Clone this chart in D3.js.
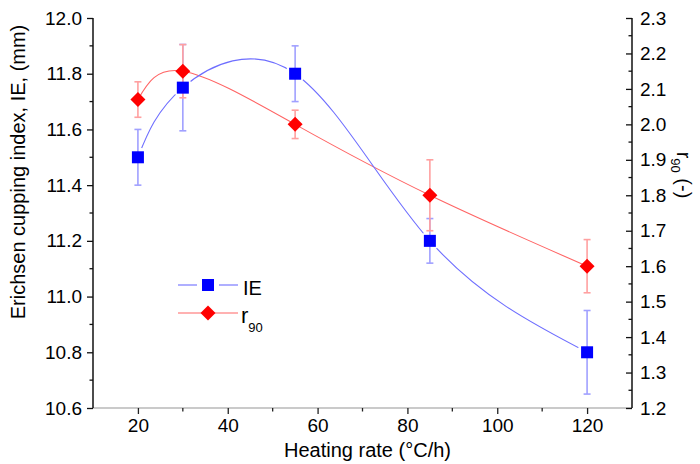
<!DOCTYPE html>
<html><head><meta charset="utf-8">
<script src="https://cdn.jsdelivr.net/npm/d3@7"></script>
<style>body{margin:0;background:#fff}svg{display:block;font-family:"Liberation Sans",Arial,sans-serif}</style>
</head><body><svg id="c" width="700" height="464"></svg>
<script>
const heatingRate = [20, 30, 55, 85, 120];
const ieValues = [11.5, 11.75, 11.8, 11.2, 10.8];
const ieErrors = [0.1, 0.155, 0.1, 0.08, 0.15];
const r90Values = [2.07, 2.15, 2.0, 1.8, 1.6];
const r90Errors = [0.05, 0.075, 0.04, 0.1, 0.075];
const xMajorTicks = [20, 40, 60, 80, 100, 120];
const leftTicks = [10.6, 10.8, 11.0, 11.2, 11.4, 11.6, 11.8, 12.0];
const rightTicks = [1.2, 1.3, 1.4, 1.5, 1.6, 1.7, 1.8, 1.9, 2.0, 2.1, 2.2, 2.3];

const svg = d3.select("#c");
const L = 93, R = 632, T = 18, B = 408;
const x = d3.scaleLinear().domain([10, 130]).range([L, R]);
const yL = d3.scaleLinear().domain([10.6, 12.0]).range([B, T]);
const yR = d3.scaleLinear().domain([1.2, 2.3]).range([B, T]);

const ie = heatingRate.map((h, i) => ({x: h, y: ieValues[i], e: ieErrors[i]}));
const r9 = heatingRate.map((h, i) => ({x: h, y: r90Values[i], e: r90Errors[i]}));

// mask for line gaps around IE markers
const defs = svg.append("defs");
const m = defs.append("mask").attr("id", "ieMask").attr("maskUnits", "userSpaceOnUse")
  .attr("x", 0).attr("y", 0).attr("width", 700).attr("height", 464);
m.append("rect").attr("width", 700).attr("height", 464).attr("fill", "#fff");
m.selectAll("circle").data(ie).join("circle")
  .attr("cx", d => x(d.x)).attr("cy", d => yL(d.y)).attr("r", 10).attr("fill", "#000");

// Axes
const fs = "19px";
const xAxis = svg.append("g").attr("transform", `translate(0,${B})`)
  .call(d3.axisBottom(x).tickValues(xMajorTicks).tickSize(6).tickPadding(5).tickFormat(d3.format("d")));
xAxis.select(".domain").attr("stroke", "#b8b8b8").attr("stroke-width", 1.5).attr("d", `M${L},0H${R}`);
xAxis.selectAll(".tick line").attr("stroke", "#222").attr("stroke-width", 1.3);
xAxis.selectAll("text").attr("font-size", fs).attr("fill", "#000");
xAxis.selectAll(".minor").data(d3.range(30, 130, 20)).join("line")
  .attr("x1", d => x(d)).attr("x2", d => x(d)).attr("y1", 0).attr("y2", 3.5)
  .attr("stroke", "#222").attr("stroke-width", 1.3);

const yAxisL = svg.append("g").attr("transform", `translate(${L},0)`)
  .call(d3.axisLeft(yL).tickValues(leftTicks).tickSize(6).tickPadding(5).tickFormat(d3.format(".1f")));
yAxisL.select(".domain").attr("stroke", "#111").attr("stroke-width", 1.5).attr("d", `M0,${T}V${B}`);
yAxisL.selectAll(".tick line").attr("stroke", "#111").attr("stroke-width", 1.3);
yAxisL.selectAll("text").attr("font-size", fs).attr("fill", "#000");
yAxisL.selectAll(".minor").data(d3.range(10.7, 12.0, 0.2)).join("line")
  .attr("x1", -3.5).attr("x2", 0).attr("y1", d => yL(d)).attr("y2", d => yL(d))
  .attr("stroke", "#111").attr("stroke-width", 1.3);

const yAxisR = svg.append("g").attr("transform", `translate(${R},0)`)
  .call(d3.axisRight(yR).tickValues(rightTicks).tickSize(-6).tickPadding(8).tickFormat(d3.format(".1f")));
yAxisR.select(".domain").attr("stroke", "#111").attr("stroke-width", 1.5).attr("d", `M0,${T}V${B}`);
yAxisR.selectAll(".tick line").attr("stroke", "#111").attr("stroke-width", 1.3);
yAxisR.selectAll("text").attr("font-size", fs).attr("fill", "#000");
yAxisR.selectAll(".minor").data(d3.range(1.25, 2.3, 0.1)).join("line")
  .attr("x1", -3.5).attr("x2", 0).attr("y1", d => yR(d)).attr("y2", d => yR(d))
  .attr("stroke", "#111").attr("stroke-width", 1.3);

// Titles
svg.append("text").attr("transform", `translate(${(L+R)/2 + 5},457)`).attr("text-anchor", "middle")
  .attr("font-size", "20px").text("Heating rate (°C/h)");
svg.append("text").attr("transform", "translate(25,172) rotate(-90)").attr("text-anchor", "middle")
  .attr("font-size", "20px").text("Erichsen cupping index, IE, (mm)");
const rt = svg.append("text").attr("transform", "translate(677,175) rotate(90)").attr("text-anchor", "middle")
  .attr("font-size", "20px");
rt.append("tspan").text("r");
rt.append("tspan").attr("font-size", "13px").attr("dy", 6).text("90");
rt.append("tspan").attr("dy", -6).text(" (-)");

// Lines
const lineIE = d3.line().x(d => x(d.x)).y(d => yL(d.y)).curve(d3.curveNatural);
const lineR = d3.line().x(d => x(d.x)).y(d => yR(d.y)).curve(d3.curveNatural);
svg.append("path").datum(r9).attr("d", lineR).attr("fill", "none").attr("stroke", "#ff6464").attr("stroke-width", 1.1);
svg.append("path").datum(ie).attr("d", lineIE).attr("fill", "none").attr("stroke", "#6e6eff").attr("stroke-width", 1.1)
  .attr("mask", "url(#ieMask)");

// Error bars
function errBars(data, ys, color) {
  const g = svg.append("g").attr("stroke", color).attr("stroke-width", 1.6).attr("fill", "none");
  data.forEach(d => {
    const cx = x(d.x), y1 = ys(d.y + d.e), y2 = ys(d.y - d.e);
    g.append("line").attr("x1", cx).attr("x2", cx).attr("y1", y1).attr("y2", y2);
    g.append("line").attr("x1", cx - 3.5).attr("x2", cx + 3.5).attr("y1", y1).attr("y2", y1);
    g.append("line").attr("x1", cx - 3.5).attr("x2", cx + 3.5).attr("y1", y2).attr("y2", y2);
  });
}
errBars(ie, yL, "#a0a0ff");
errBars(r9, yR, "#ffa0a0");

// Markers
const sq = 12, dm = 7.5;
svg.selectAll(".sq").data(ie).join("rect").attr("class", "sq")
  .attr("x", d => x(d.x) - sq/2).attr("y", d => yL(d.y) - sq/2).attr("width", sq).attr("height", sq)
  .attr("fill", "#0000ff");
const diamond = (cx, cy) => `M${cx},${cy-dm}L${cx+dm},${cy}L${cx},${cy+dm}L${cx-dm},${cy}Z`;
svg.selectAll(".dm").data(r9).join("path").attr("class", "dm")
  .attr("d", d => diamond(x(d.x), yR(d.y))).attr("fill", "#ff0000");

// Legend
const lg = svg.append("g");
lg.append("line").attr("x1", 178).attr("x2", 197).attr("y1", 285).attr("y2", 285).attr("stroke", "#6e6eff").attr("stroke-width", 1.1);
lg.append("line").attr("x1", 219).attr("x2", 238).attr("y1", 285).attr("y2", 285).attr("stroke", "#6e6eff").attr("stroke-width", 1.1);
lg.append("rect").attr("x", 208 - sq/2).attr("y", 285 - sq/2).attr("width", sq).attr("height", sq).attr("fill", "#0000ff");
lg.append("text").attr("x", 243).attr("y", 295).attr("font-size", "20px").text("IE");
lg.append("line").attr("x1", 178).attr("x2", 238).attr("y1", 313).attr("y2", 313).attr("stroke", "#ff6464").attr("stroke-width", 1.1);
lg.append("path").attr("d", diamond(208, 313)).attr("fill", "#ff0000");
const lt = lg.append("text").attr("x", 241).attr("y", 323).attr("font-size", "22px");
lt.append("tspan").text("r");
lt.append("tspan").attr("font-size", "13px").attr("dy", 9).text("90");
</script></body></html>
